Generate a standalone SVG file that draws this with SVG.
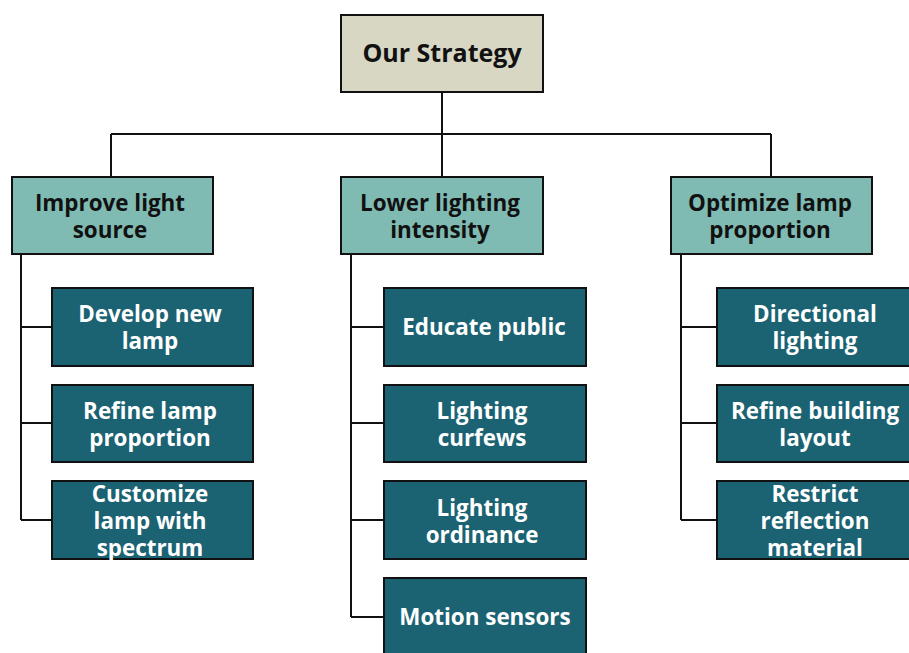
<svg xmlns="http://www.w3.org/2000/svg" width="909" height="653" viewBox="0 0 909 653">
<style>
.root{fill:#d8d7c3;stroke:#111;stroke-width:2}
.l1{fill:#7fbab3;stroke:#111;stroke-width:2}
.l2{fill:#1b6373;stroke:#111;stroke-width:2}
.t{font-family:"Open Sans","Noto Sans",sans-serif;font-weight:bold;font-size:22.4px;text-anchor:middle}
.dk{fill:#111}
.wt{fill:#fff}
.c{fill:none;stroke:#111;stroke-width:2}
</style>
<rect width="909" height="653" fill="#fff"/>
<g id="connectors">
<path class="c" d="M442,92V134M111,134H771M111,134V177M442,134V177M771,134V177"/>
<path class="c" d="M21,254V520M21,327H52M21,423H52M21,520H52"/>
<path class="c" d="M351,254V617M351,327H384M351,423H384M351,520H384M351,617H384"/>
<path class="c" d="M681,254V520M681,327H717M681,423H717M681,520H717"/>
</g>
<g id="root"><rect class="root" x="341" y="15" width="202" height="77"/><text class="t dk" x="442" y="62" style="font-size:25px">Our Strategy</text></g>
<g id="improve"><rect class="l1" x="12" y="177" width="201" height="77"/><text class="t dk" x="110" y="211">Improve light</text><text class="t dk" x="110" y="238">source</text></g>
<g id="lower"><rect class="l1" x="341" y="177" width="202" height="77"/><text class="t dk" x="440" y="211">Lower lighting</text><text class="t dk" x="440" y="238">intensity</text></g>
<g id="optimize"><rect class="l1" x="671" y="177" width="201" height="77"/><text class="t dk" x="770" y="211">Optimize lamp</text><text class="t dk" x="770" y="238">proportion</text></g>
<g id="develop"><rect class="l2" x="52" y="288" width="201" height="78"/><text class="t wt" x="150" y="322">Develop new</text><text class="t wt" x="150" y="349">lamp</text></g>
<g id="refine-lamp"><rect class="l2" x="52" y="385" width="201" height="77"/><text class="t wt" x="150" y="419">Refine lamp</text><text class="t wt" x="150" y="446">proportion</text></g>
<g id="customize"><rect class="l2" x="52" y="481" width="201" height="78"/><text class="t wt" x="150" y="502">Customize</text><text class="t wt" x="150" y="529">lamp with</text><text class="t wt" x="150" y="556">spectrum</text></g>
<g id="educate"><rect class="l2" x="384" y="288" width="202" height="78"/><text class="t wt" x="484" y="335">Educate public</text></g>
<g id="curfews"><rect class="l2" x="384" y="385" width="202" height="77"/><text class="t wt" x="482" y="419">Lighting</text><text class="t wt" x="482" y="446">curfews</text></g>
<g id="ordinance"><rect class="l2" x="384" y="481" width="202" height="78"/><text class="t wt" x="482" y="516">Lighting</text><text class="t wt" x="482" y="543">ordinance</text></g>
<g id="motion"><rect class="l2" x="384" y="578" width="202" height="78"/><text class="t wt" x="485" y="625">Motion sensors</text></g>
<g id="directional"><rect class="l2" x="717" y="288" width="202" height="78"/><text class="t wt" x="815" y="322">Directional</text><text class="t wt" x="815" y="349">lighting</text></g>
<g id="refine-building"><rect class="l2" x="717" y="385" width="202" height="77"/><text class="t wt" x="815" y="419">Refine building</text><text class="t wt" x="815" y="446">layout</text></g>
<g id="restrict"><rect class="l2" x="717" y="481" width="202" height="78"/><text class="t wt" x="815" y="502">Restrict</text><text class="t wt" x="815" y="529">reflection</text><text class="t wt" x="815" y="556">material</text></g>
</svg>
